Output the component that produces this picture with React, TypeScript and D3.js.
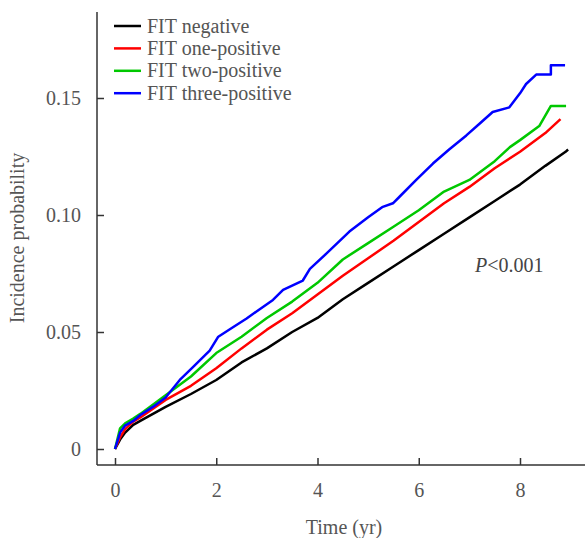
import React, { useEffect, useRef } from 'react';
import * as d3 from 'd3';

// cumulative incidence by FIT result
const negTime = [0, 0.1, 0.2, 0.36, 0.5, 1.0, 1.5, 2.0, 2.5, 3.0, 3.5, 4.0, 4.5, 5.0, 5.5, 6.0, 6.5, 7.0, 7.5, 8.0, 8.5, 8.9, 8.95];
const negVal = [0, 0.004, 0.007, 0.0103, 0.012, 0.018, 0.0235, 0.0295, 0.037, 0.043, 0.05, 0.056, 0.064, 0.071, 0.078, 0.085, 0.092, 0.099, 0.106, 0.113, 0.121, 0.127, 0.128];

const oneTime = [0, 0.1, 0.2, 0.36, 0.5, 1.0, 1.5, 2.0, 2.5, 3.0, 3.5, 4.0, 4.5, 5.0, 5.5, 6.0, 6.5, 7.0, 7.5, 8.0, 8.5, 8.8];
const oneVal = [0, 0.005, 0.0085, 0.0117, 0.0135, 0.021, 0.027, 0.0345, 0.043, 0.051, 0.058, 0.066, 0.074, 0.0815, 0.089, 0.097, 0.105, 0.112, 0.12, 0.127, 0.135, 0.141];

const twoTime = [0, 0.1, 0.2, 0.36, 0.5, 1.0, 1.5, 2.0, 2.5, 3.0, 3.5, 4.0, 4.5, 5.0, 5.5, 6.0, 6.5, 7.0, 7.5, 7.8, 8.0, 8.38, 8.61, 8.91];
const twoVal = [0, 0.0088, 0.011, 0.013, 0.015, 0.023, 0.031, 0.041, 0.048, 0.056, 0.063, 0.071, 0.081, 0.088, 0.095, 0.102, 0.11, 0.115, 0.123, 0.129, 0.132, 0.138, 0.1466, 0.1466];

const threeTime = [0, 0.1, 0.2, 0.36, 0.5, 0.75, 1.0, 1.28, 1.54, 1.87, 2.04, 2.33, 2.6, 3.12, 3.32, 3.71, 3.85, 4.2, 4.63, 5.0, 5.29, 5.49, 5.62, 5.95, 6.28, 6.6, 6.94, 7.2, 7.46, 7.79, 8.0, 8.12, 8.32, 8.61, 8.61, 8.89];
const threeVal = [0, 0.007, 0.01, 0.012, 0.0145, 0.018, 0.022, 0.0295, 0.035, 0.042, 0.048, 0.052, 0.0558, 0.0637, 0.068, 0.072, 0.077, 0.084, 0.0929, 0.099, 0.1035, 0.105, 0.1078, 0.115, 0.122, 0.128, 0.134, 0.139, 0.144, 0.146, 0.152, 0.156, 0.16, 0.16, 0.164, 0.164];

const seriesNames = ['FIT negative', 'FIT one-positive', 'FIT two-positive', 'FIT three-positive'];
const seriesColors = ['#000000', '#ff0000', '#00c800', '#0000ff'];
const xTicks = [0, 2, 4, 6, 8];
const yTicks = [0, 0.05, 0.1, 0.15];
const yTickLabels = ['0', '0.05', '0.10', '0.15'];

const FONT = '"Liberation Serif", "Times New Roman", serif';

const App = () => {
    const svgRef = useRef(null);

    useEffect(() => {
        const svg = d3.select(svgRef.current);
        svg.selectAll('*').remove();

        const width = 585;
        const height = 538;
        const axisX = 97;
        const axisY = 465;

        const x = d3.scaleLinear().domain([0, 8]).range([115, 520]);
        const y = d3.scaleLinear().domain([0, 0.15]).range([449, 98]);

        svg.attr('width', width).attr('height', height);

        // axis lines
        svg.append('line')
            .attr('x1', axisX).attr('x2', axisX)
            .attr('y1', 12).attr('y2', axisY)
            .attr('stroke', '#333').attr('stroke-width', 1.5);
        svg.append('line')
            .attr('x1', axisX).attr('x2', width)
            .attr('y1', axisY).attr('y2', axisY)
            .attr('stroke', '#333').attr('stroke-width', 1.5);

        // y axis (ticks pointing inward)
        const yAxis = svg.append('g')
            .attr('transform', `translate(${axisX},0)`)
            .call(d3.axisLeft(y).tickValues(yTicks).tickSize(-7).tickPadding(16)
                .tickFormat((d, i) => yTickLabels[i]));
        yAxis.select('.domain').remove();

        // x axis
        const xAxis = svg.append('g')
            .attr('transform', `translate(0,${axisY})`)
            .call(d3.axisBottom(x).tickValues(xTicks).tickSize(-7).tickPadding(18)
                .tickFormat(d3.format('d')));
        xAxis.select('.domain').remove();

        svg.selectAll('.tick line').attr('stroke', '#333').attr('stroke-width', 1.5);
        svg.selectAll('.tick text')
            .attr('fill', '#555')
            .style('font-family', FONT)
            .style('font-size', '20px');

        // axis titles
        svg.append('text')
            .attr('x', 344).attr('y', 534)
            .attr('text-anchor', 'middle')
            .attr('fill', '#555')
            .style('font-family', FONT).style('font-size', '20px')
            .text('Time (yr)');
        svg.append('text')
            .attr('transform', 'translate(24,238) rotate(-90)')
            .attr('text-anchor', 'middle')
            .attr('fill', '#555')
            .style('font-family', FONT).style('font-size', '20px')
            .text('Incidence probability');

        // curves
        const times = [negTime, oneTime, twoTime, threeTime];
        const vals = [negVal, oneVal, twoVal, threeVal];
        const line = d3.line()
            .x(d => x(d[0]))
            .y(d => y(d[1]));

        times.forEach((ts, k) => {
            const pts = ts.map((t, i) => [t, vals[k][i]]);
            svg.append('path')
                .datum(pts)
                .attr('d', line)
                .attr('fill', 'none')
                .attr('stroke', seriesColors[k])
                .attr('stroke-width', 2.5)
                .attr('stroke-linejoin', 'round');
        });

        // legend
        const legend = svg.append('g').attr('transform', 'translate(114,26)');
        const items = legend.selectAll('g')
            .data(seriesNames)
            .enter().append('g')
            .attr('transform', (d, i) => `translate(0,${i * 22.4})`);
        items.append('line')
            .attr('x1', 0).attr('x2', 27)
            .attr('y1', 0).attr('y2', 0)
            .attr('stroke', (d, i) => seriesColors[i])
            .attr('stroke-width', 2.5);
        items.append('text')
            .attr('x', 33).attr('y', 0).attr('dy', '0.33em')
            .attr('fill', '#555')
            .style('font-family', FONT).style('font-size', '20px')
            .text(d => d);

        // p-value
        const p = svg.append('text')
            .attr('x', 475).attr('y', 272)
            .attr('fill', '#444')
            .style('font-family', FONT).style('font-size', '20px');
        p.append('tspan').style('font-style', 'italic').text('P');
        p.append('tspan').text('<0.001');
    }, []);

    return (
        <svg ref={svgRef} style={{ position: 'absolute', left: 0, top: 0 }}></svg>
    );
};

export default App;
